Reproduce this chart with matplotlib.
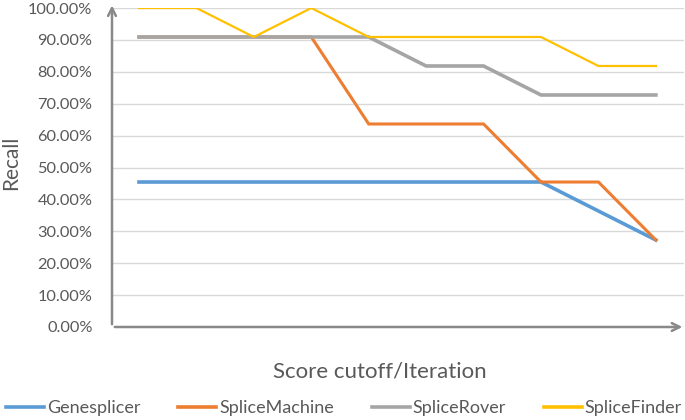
import numpy as np
import matplotlib.pyplot as plt
from matplotlib.ticker import PercentFormatter

plt.rcParams['font.family'] = ['Lato', 'DejaVu Sans']

steps = list(range(10))
genesplicer = [45.45, 45.45, 45.45, 45.45, 45.45, 45.45, 45.45, 45.45, 36.36, 27.27]
splicemachine = [90.91, 90.91, 90.91, 90.91, 63.64, 63.64, 63.64, 45.45, 45.45, 27.27]
splicerover = [90.91, 90.91, 90.91, 90.91, 90.91, 81.82, 81.82, 72.73, 72.73, 72.73]
splicefinder = [100, 100, 90.91, 100, 90.91, 90.91, 90.91, 90.91, 81.82, 81.82]

names = ['Genesplicer', 'SpliceMachine', 'SpliceRover', 'SpliceFinder']
colors = ['#5B9BD5', '#ED7D31', '#A5A5A5', '#FFC000']
widths = [2.6, 2.2, 2.6, 1.6]
axcol = '#898989'
txtcol = '#595959'

fig = plt.figure(figsize=(6.85, 4.2), dpi=100)
ax = fig.add_axes([112/685, 1-327/420, 572/685, 319/420])

for ys, nm, c, w in zip([genesplicer, splicemachine, splicerover, splicefinder], names, colors, widths):
    ax.plot(steps, ys, color=c, lw=w, label=nm, solid_joinstyle='miter')

ax.set_xlim(-0.47, 9.49)
ax.set_ylim(0, 100)
ax.set_yticks(np.arange(0, 101, 10))
ax.yaxis.set_major_formatter(PercentFormatter(decimals=2))
ax.set_xticks([])
ax.tick_params(axis='y', length=0, pad=14, labelsize=11.8, labelcolor=txtcol)
ax.grid(axis='y', color='#D9D9D9', lw=1)
ax.set_axisbelow(True)
for s in ax.spines.values():
    s.set_visible(False)

# axis arrows
ax.annotate('', xy=(0, 1.017), xytext=(0, 0), xycoords='axes fraction',
            arrowprops=dict(arrowstyle='->', color=axcol, lw=1.8, mutation_scale=14))
ax.annotate('', xy=(1.002, 0), xytext=(0, 0), xycoords='axes fraction',
            arrowprops=dict(arrowstyle='->', color=axcol, lw=1.8, mutation_scale=14))

fig.text(11/685, 1-163/420, 'Recall', rotation=90, ha='center', va='center',
         fontsize=15, color=txtcol)
fig.text(380/685, 1-372/420, 'Score cutoff/Iteration', ha='center', va='center',
         fontsize=16, color=txtcol)

leg = fig.legend(loc='center', bbox_to_anchor=(344/685, 1-408/420), ncol=4,
                 frameon=False, fontsize=13, handlelength=2.1, handletextpad=0.15,
                 columnspacing=2.1, borderaxespad=0, borderpad=0)
for t in leg.get_texts():
    t.set_color(txtcol)
for h in leg.get_lines():
    h.set_linewidth(2.6)

fig.savefig('out.png', dpi=100)
